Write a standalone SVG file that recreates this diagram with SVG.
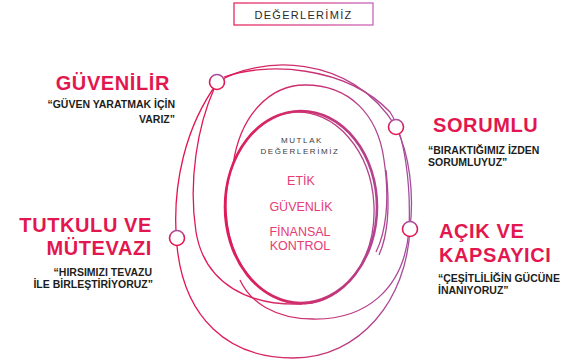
<svg xmlns="http://www.w3.org/2000/svg" width="566" height="362" viewBox="0 0 566 362">
  <defs>
    <linearGradient id="gLine" gradientUnits="userSpaceOnUse" x1="175" y1="0" x2="415" y2="0">
      <stop offset="0" stop-color="#e5124f"/>
      <stop offset="0.45" stop-color="#d42a68"/>
      <stop offset="1" stop-color="#a24f9f"/>
    </linearGradient>
    <linearGradient id="gDot" x1="0" y1="0" x2="0" y2="1">
      <stop offset="0" stop-color="#a9509f"/>
      <stop offset="0.6" stop-color="#e5124f"/>
      <stop offset="1" stop-color="#e5124f"/>
    </linearGradient>
    <linearGradient id="gBox" gradientUnits="userSpaceOnUse" x1="234" y1="0" x2="373" y2="0">
      <stop offset="0" stop-color="#e8174f"/>
      <stop offset="1" stop-color="#c25ab6"/>
    </linearGradient>
    <style>
      .loop { fill: none; stroke: url(#gLine); stroke-width: 1.3; }
      .thick { fill: none; stroke: url(#gLine); stroke-width: 2.6; }
      .dot { fill: #ffffff; stroke: url(#gDot); stroke-width: 1.6; }
      .head { font-family: "Liberation Sans", Arial, sans-serif; font-weight: bold; font-size: 20px; fill: #e3174f; letter-spacing: 0.6px; }
      .quote { font-family: "Liberation Sans", Arial, sans-serif; font-weight: bold; font-size: 10.5px; fill: #1d1d1b; }
      .core { font-family: "Liberation Sans", Arial, sans-serif; font-size: 12.5px; fill: #e63b73; text-anchor: middle; }
      .small { font-family: "Liberation Sans", Arial, sans-serif; font-size: 8px; fill: #3c3c3b; text-anchor: middle; letter-spacing: 1.6px; }
      .end { text-anchor: end; }
    </style>
  </defs>
  <rect width="566" height="362" fill="#ffffff"/>

  <g id="connectors">
    <path class="loop" d="M218,82 C258,56 350,52 396,127 C410,155 414,195 410,228 C407,300 360,358 293,358 C228,358 184,318 177,246 C171,185 186,125 218,82 Z"/>
    <path class="loop" d="M224,77 C265,62 345,65 390,112 C405,135 411,185 409,230 C404,290 365,320 313,319 C275,319 250,302 240,280"/>
    <path class="loop" d="M214,89 C198,125 188,180 196,232 C205,285 250,306 302,304"/>
    <path class="loop" d="M233,165 C240,115 270,85 305,85 C350,85 378,115 384,160 C390,200 386,232 376,252"/>
    <path class="loop" d="M386,170 C390,205 388,235 379,255"/>
    <ellipse class="thick" cx="301" cy="207" rx="76" ry="96"/>
    <ellipse class="loop" cx="300" cy="208" rx="74" ry="96" transform="rotate(-3 300 208)"/>
  </g>

  <g id="title">
    <rect x="234" y="3" width="139" height="22" fill="#ffffff" stroke="url(#gBox)" stroke-width="1.2"/>
    <text x="303.5" y="18.5" font-family="Liberation Sans, Arial, sans-serif" font-size="11px" fill="#2b2b2b" text-anchor="middle" letter-spacing="1.3">DEĞERLERİMİZ</text>
  </g>

  <g id="core">
    <text class="small" x="302" y="143">MUTLAK</text>
    <text class="small" x="300" y="154">DEĞERLERİMİZ</text>
    <text class="core" x="301" y="185">ETİK</text>
    <text class="core" x="301" y="211">GÜVENLİK</text>
    <text class="core" x="300" y="236">FİNANSAL</text>
    <text class="core" x="300" y="250">KONTROL</text>
  </g>

  <g id="guvenilir">
    <circle class="dot" cx="217" cy="82" r="7.5"/>
    <text class="head end" x="170" y="90">GÜVENİLİR</text>
    <text class="quote end" x="175" y="108">“GÜVEN YARATMAK İÇİN</text>
    <text class="quote end" x="175" y="123">VARIZ”</text>
  </g>

  <g id="sorumlu">
    <circle class="dot" cx="396" cy="127" r="7.5"/>
    <text class="head" x="433" y="132">SORUMLU</text>
    <text class="quote" x="428" y="154">“BIRAKTIĞIMIZ İZDEN</text>
    <text class="quote" x="428" y="165.5">SORUMLUYUZ”</text>
  </g>

  <g id="tutkulu">
    <circle class="dot" cx="177" cy="238" r="7.5"/>
    <text class="head end" x="152" y="232">TUTKULU VE</text>
    <text class="head end" x="152" y="255">MÜTEVAZI</text>
    <text class="quote end" x="152" y="276">“HIRSIMIZI TEVAZU</text>
    <text class="quote end" x="153" y="287.5">İLE BİRLEŞTİRİYORUZ”</text>
  </g>

  <g id="acik">
    <circle class="dot" cx="410" cy="229" r="7.5"/>
    <text class="head" x="439" y="238">AÇIK VE</text>
    <text class="head" x="439" y="262">KAPSAYICI</text>
    <text class="quote" x="438" y="282">“ÇEŞİTLİLİĞİN GÜCÜNE</text>
    <text class="quote" x="438" y="293.5">İNANIYORUZ”</text>
  </g>
</svg>
